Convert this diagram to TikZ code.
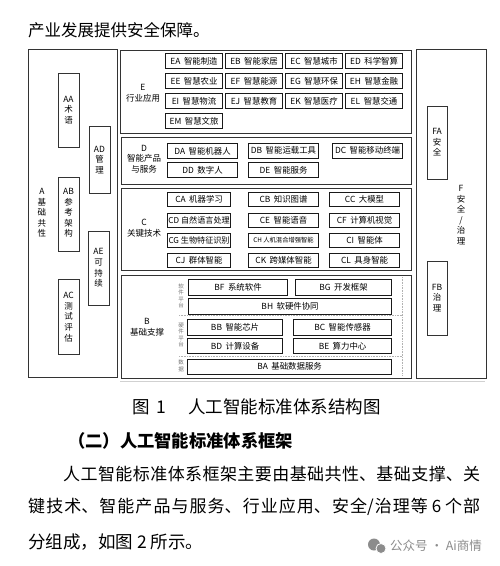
\documentclass[tikz,border=0pt]{standalone}
\usepackage{fontspec}
\setmainfont{Noto Sans CJK SC}
\newcommand\jl[2]{\parbox{#1}{\XeTeXlinebreaklocale "zh"\XeTeXlinebreakskip=0pt plus 30pt\relax\parfillskip=0pt\relax\noindent #2}}
\newcommand\ib[6]{\node[itembox, minimum width=#4pt, minimum height=#5pt] (#1) at (#2,#3) {#6};}
\newcommand\gp{\hspace{3.5pt}}
\tikzset{
  cont/.style={draw=black!80, line width=0.7pt},
  itembox/.style={draw=black!90, line width=1.1pt, inner sep=0pt, anchor=north west,
    font=\fontsize{8.4}{9}\selectfont},
  vlab/.style={align=center, inner sep=0pt, font=\fontsize{8.5}{10.6}\selectfont},
  plab/.style={align=center, inner sep=0pt, text=black!55, font=\fontsize{5.5}{6.3}\selectfont},
  grp/.style={draw=black!30, densely dotted, line width=0.6pt},
  body/.style={anchor=west, inner sep=0pt, font=\fontsize{17}{20}\selectfont},
}
\begin{document}
\begin{tikzpicture}[x=1pt,y=-1pt]
\useasboundingbox[fill=white] (0,0) rectangle (500,566);

\node[anchor=west, inner sep=0pt, font=\fontsize{16.5}{18}\selectfont] (top) at (28,30) {产业发展提供安全保障。};

% ---------- A column
\draw[cont] (28,49) rectangle (117,377);
\node[vlab] (Alab) at (42,213) {A\\基\\础\\共\\性};
\draw[cont] (58,73) rectangle (79,147);
\node[vlab] (AA) at (68.5,110) {AA\\术\\语};
\draw[cont] (89,126) rectangle (110,193);
\node[vlab] (AD) at (99.5,160) {AD\\管\\理};
\draw[cont] (58,177) rectangle (79,251);
\node[vlab] (AB) at (68.5,213) {AB\\参\\考\\架\\构};
\draw[cont] (88,231) rectangle (109,305);
\node[vlab] (AE) at (98.5,268) {AE\\可\\持\\续};
\draw[cont] (58,279) rectangle (79,354);
\node[vlab] (AC) at (68.5,317) {AC\\测\\试\\评\\估};

% ---------- E
\draw[cont] (120,50) rectangle (411,133);
\node[vlab] (Elab) at (143,93) {E\\行业应用};
\ib{EA}{165}{53}{57}{15}{EA\gp 智能制造}
\ib{EB}{225}{53}{57}{15}{EB\gp 智能家居}
\ib{EC}{285}{53}{57}{15}{EC\gp 智慧城市}
\ib{ED}{345}{53}{57}{15}{ED\gp 科学智算}
\ib{EE}{165}{73}{57}{15}{EE\gp 智慧农业}
\ib{EF}{225}{73}{57}{15}{EF\gp 智慧能源}
\ib{EG}{285}{73}{57}{15}{EG\gp 智慧环保}
\ib{EH}{345}{73}{57}{15}{EH\gp 智慧金融}
\ib{EI}{165}{93}{57}{15}{EI\gp 智慧物流}
\ib{EJ}{225}{93}{57}{15}{EJ\gp 智慧教育}
\ib{EK}{285}{93}{57}{15}{EK\gp 智慧医疗}
\ib{EL}{345}{93}{57}{15}{EL\gp 智慧交通}
\ib{EM}{165}{113}{57}{15}{EM\gp 智慧文旅}

% ---------- D
\draw[cont] (121,137) rectangle (411,184);
\node[vlab] (Dlab) at (144,159) {D\\智能产品\\与服务};
\ib{DA}{167}{143}{70}{14.5}{DA\gp 智能机器人}
\ib{DB}{248}{143}{70}{14.5}{DB\gp 智能运载工具}
\ib{DC}{332}{143}{70}{14.5}{DC\gp 智能移动终端}
\ib{DD}{167}{162}{70}{14.5}{DD\gp 数字人}
\ib{DE}{248}{162}{70}{14.5}{DE\gp 智能服务}

% ---------- C
\draw[cont] (121,188) rectangle (411,270);
\node[vlab] (Clab) at (144,228) {C\\关键技术};
\ib{CA}{167}{192}{63}{14}{CA\gp 机器学习}
\ib{CB}{248}{192}{70}{14}{CB\gp 知识图谱}
\ib{CC}{329}{192}{70}{14}{CC\gp 大模型}
\ib{CD}{167}{212.5}{63}{14}{\fontsize{8.1}{9}\selectfont CD\hspace{2pt}自然语言处理}
\ib{CE}{248}{212.5}{70}{14}{CE\gp 智能语音}
\ib{CF}{329}{212.5}{70}{14}{CF\gp 计算机视觉}
\ib{CG}{167}{233}{63}{14}{\fontsize{8.1}{9}\selectfont CG\hspace{2pt}生物特征识别}
\ib{CH}{248}{233}{70}{14}{\fontsize{6.3}{7}\selectfont CH\ 人机混合增强智能}
\ib{CI}{329}{233}{70}{14}{CI\gp 智能体}
\ib{CJ}{167}{253}{63}{14}{CJ\gp 群体智能}
\ib{CK}{248}{253}{70}{14}{CK\gp 跨媒体智能}
\ib{CL}{329}{253}{70}{14}{CL\gp 具身智能}

% ---------- B
\draw[cont] (121,275) rectangle (411,378);
\node[vlab] (Blab) at (147,327) {B\\基础支撑};
\draw[grp] (179,315) -- (402,315);
\draw[grp] (179,356) -- (402,356);
\draw[grp] (402,277) -- (402,376);
\node[plab] (sw) at (181,296) {软\\件\\平\\台};
\node[plab] (hw) at (181,335) {硬\\件\\平\\台};
\node[plab] (da) at (181,366) {数\\据};
\ib{BF}{188}{279}{99}{16}{BF\gp 系统软件}
\ib{BG}{295}{279}{96}{16}{BG\gp 开发框架}
\ib{BH}{188}{297.5}{203}{16}{BH\gp 软硬件协同}
\ib{BB}{187}{319}{95}{15.5}{BB\gp 智能芯片}
\ib{BC}{293}{319}{98}{15.5}{BC\gp 智能传感器}
\ib{BD}{187}{337.5}{95}{15.5}{BD\gp 计算设备}
\ib{BE}{293}{337.5}{98}{15.5}{BE\gp 算力中心}
\ib{BA}{187}{358.5}{204}{15.5}{BA\gp 基础数据服务}

% ---------- F
\draw[cont] (416,49) rectangle (486,378);
\draw[cont] (427,106) rectangle (447,179);
\node[vlab] (FA) at (437,142.5) {FA\\安\\全};
\node[vlab] (Flab) at (461,215) {F\\安\\全\\/\\治\\理};
\draw[cont] (427,261) rectangle (447,335);
\node[vlab] (FB) at (437,298) {FB\\治\\理};

\draw[black!18, line width=0.5pt] (120,381.5) -- (485,381.5);

% ---------- text below
\node[anchor=west, inner sep=0pt, font=\fontsize{17.5}{20}\selectfont] (cap) at (132,407)
  {图\hspace{7pt}1\hspace{22pt}人工智能标准体系结构图};
\node[anchor=west, inner sep=0pt, font=\bfseries\fontsize{17.3}{20}\selectfont] (head) at (68,441)
  {（二）人工智能标准体系框架};
\node[body] (p1) at (63,474) {\jl{417pt}{人工智能标准体系框架主要由基础共性、基础支撑、关}};
\node[body] (p2) at (28,507) {\jl{452pt}{键技术、智能产品与服务、行业应用、安全/治理等 6 个部}};
\node[body, font=\fontsize{17.5}{20}\selectfont] (p3) at (28,542) {分组成，如图 2 所示。};

% watermark
\fill[black!45] (374,544.5) circle (6);
\fill[black!45, draw=white, line width=0.8pt] (381,548.5) circle (5);
\node[anchor=west, inner sep=0pt, text=black!45, font=\fontsize{12.5}{14}\selectfont] (wm) at (390,546) {公众号 · Ai商情};
\end{tikzpicture}
\end{document}
